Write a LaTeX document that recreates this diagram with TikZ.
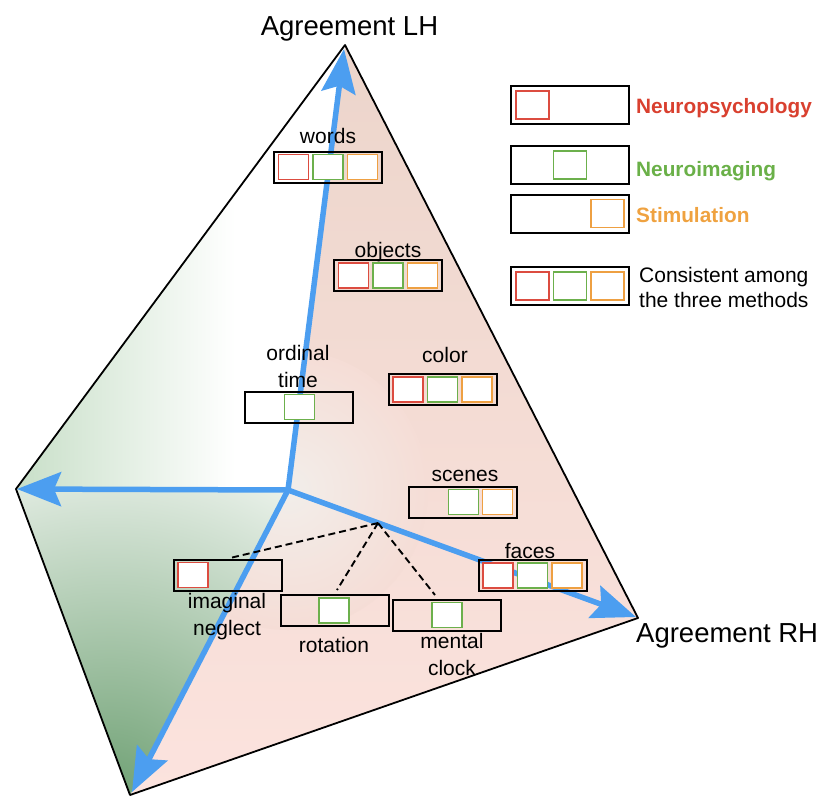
\documentclass[tikz,border=0pt]{standalone}
\usepackage{fontspec}
\setmainfont{Liberation Sans}
\usetikzlibrary{arrows.meta,calc}
\definecolor{arrowblue}{RGB}{76,158,240}
\definecolor{boxred}{RGB}{220,76,64}
\definecolor{boxgreen}{RGB}{108,176,76}
\definecolor{boxorange}{RGB}{238,160,66}
\definecolor{txtred}{RGB}{217,64,47}
\definecolor{txtgreen}{RGB}{106,176,72}
\definecolor{txtorange}{RGB}{239,162,64}
\definecolor{pinktop}{RGB}{236,213,203}
\definecolor{pinkbot}{RGB}{252,227,222}
\definecolor{pinkmid}{RGB}{245,221,214}
\definecolor{centerwhite}{RGB}{242,238,234}
\definecolor{greenlight}{RGB}{200,223,200}
\definecolor{greendark}{RGB}{110,160,115}
\definecolor{greenpale}{RGB}{232,240,232}
\begin{document}
\begin{tikzpicture}[x=1pt,y=-1pt,
  catbox/.style={draw=black, line width=2pt, minimum width=108pt, minimum height=31pt, inner sep=0pt},
  legbox/.style={draw=black, line width=2pt, minimum width=118pt, minimum height=38pt, inner sep=0pt},
  sqr/.style={draw=#1, fill=white, line width=1.9pt, minimum width=30pt, minimum height=25pt, inner sep=0pt},
  legsqr/.style={draw=#1, fill=white, line width=1.9pt, minimum width=33pt, minimum height=28pt, inner sep=0pt},
  lbl/.style={font=\fontsize{21}{26.5}\selectfont, inner sep=0pt, anchor=base, align=center},
  biglbl/.style={font=\fontsize{27.5}{32}\selectfont, inner sep=0pt, anchor=base},
  legtxt/.style={font=\fontsize{20.8}{25}\selectfont\bfseries, inner sep=0pt, anchor=base west},
  legplain/.style={font=\fontsize{21}{25}\selectfont, inner sep=0pt, anchor=base west},
  bluearrow/.style={draw=arrowblue, line width=5.5pt, line cap=round, -{Stealth[length=44pt,width=34pt,inset=7pt]}},
  dashline/.style={draw=black, line width=1.9pt, dash pattern=on 7pt off 4pt},
  outline/.style={draw=black, line width=1.8pt, line join=round}]
\useasboundingbox (0,0) rectangle (825,796);

% vertices
\coordinate (T) at (345,45);
\coordinate (L) at (16,489);
\coordinate (B) at (130,795);
\coordinate (R) at (638,618);
\coordinate (C) at (288,490);
\coordinate (J) at (378,523);
\coordinate (Ttip) at (344,49);
\coordinate (Ltip) at (17,489);
\coordinate (Btip) at (132,792);
\coordinate (Rtip) at (636,617);

% shading of the faces
\begin{scope}
\clip (T) -- (C) -- (B) -- (R) -- cycle;
\shade[top color=pinktop, bottom color=pinkbot] (120,40) rectangle (645,800);
\shade[inner color=centerwhite, outer color=pinkmid] (C) circle (140);
\end{scope}
\begin{scope}
\clip (T) -- (L) -- (C) -- cycle;
\fill[white] (0,0) rectangle (400,500);
\shade[left color=greenlight, right color=white] (16,40) rectangle (235,495);
\end{scope}
\begin{scope}
\clip (L) -- (B) -- (C) -- cycle;
\fill[greenpale] (0,480) rectangle (300,800);
\shade[inner color=greendark, outer color=greenpale] (110,800) circle (350);
\end{scope}

% outline
\draw[outline] (T) -- (L) -- (B) -- (R) -- cycle;

% axes
\draw[bluearrow] (C) -- (Ttip);
\draw[bluearrow] (C) -- (Ltip);
\draw[bluearrow] (C) -- (Btip);
\draw[bluearrow] (C) -- (Rtip);

% category boxes
\node[catbox] (words) at (328,167) {};
\node[catbox] (objects) at (388,275.5) {};
\node[catbox] (ordinal) at (299,407) {};
\node[catbox] (color) at (442.5,389.5) {};
\node[catbox] (scenes) at (463,502) {};
\node[catbox] (faces) at (532.5,575.5) {};
\node[catbox] (imaginal) at (227.5,575) {};
\node[catbox] (rotation) at (335,610.5) {};
\node[catbox] (mental) at (446.5,615) {};

% dashed links
\coordinate (imgEnd) at (230,558);
\coordinate (rotEnd) at (337,590);
\coordinate (menEnd) at (435,595);
\draw[dashline] (J) -- (imgEnd);
\draw[dashline] (J) -- (rotEnd);
\draw[dashline] (J) -- (menEnd);

% squares
\foreach \b in {words,objects,color,faces}{
  \node[sqr=boxred] (\b-r) at ($(\b)+(-34.5,0)$) {};
  \node[sqr=boxgreen] (\b-g) at (\b) {};
  \node[sqr=boxorange] (\b-o) at ($(\b)+(34.5,0)$) {};
}
\node[sqr=boxgreen] (ordinal-g) at ($(ordinal)+(0.5,0)$) {};
\node[sqr=boxgreen] (scenes-g) at ($(scenes)+(0.5,0)$) {};
\node[sqr=boxorange] (scenes-o) at ($(scenes)+(34.5,0)$) {};
\node[sqr=boxred] (imaginal-r) at ($(imaginal)+(-34.5,0)$) {};
\node[sqr=boxgreen] (rotation-g) at ($(rotation)+(-1,0)$) {};
\node[sqr=boxgreen] (mental-g) at ($(mental)+(0.5,0)$) {};

% labels (multi-line nodes: base = last line)
\node[lbl] (wordsT) at (328,143) {words};
\node[lbl] (objectsT) at (388,257) {objects};
\node[lbl] (ordinalT) at (298,387) {ordinal\\time};
\node[lbl] (colorT) at (445,362) {color};
\node[lbl] (scenesT) at (465,481) {scenes};
\node[lbl] (facesT) at (530,558) {faces};
\node[lbl] (imaginalT) at (227,635) {imaginal\\neglect};
\node[lbl] (rotationT) at (334,652) {rotation};
\node[lbl] (mentalT) at (452,675) {mental\\clock};

\node[biglbl] (LH) at (349.5,35) {Agreement LH};
\node[biglbl, anchor=base west] (RH) at (636,642) {Agreement RH};

% legend
\node[legbox] (leg1) at (570,105) {};
\node[legsqr=boxred] (leg1-r) at ($(leg1)+(-37.5,0)$) {};
\node[legtxt, text=txtred] (leg1T) at (636,113) {Neuropsychology};

\node[legbox] (leg2) at (570,165) {};
\node[legsqr=boxgreen] (leg2-g) at (leg2) {};
\node[legtxt, text=txtgreen] (leg2T) at (636,176) {Neuroimaging};

\node[legbox] (leg3) at (570,213.5) {};
\node[legsqr=boxorange] (leg3-o) at ($(leg3)+(37.5,0)$) {};
\node[legtxt, text=txtorange] (leg3T) at (636,222) {Stimulation};

\node[legbox] (leg4) at (570,286) {};
\node[legsqr=boxred] (leg4-r) at ($(leg4)+(-37.5,0)$) {};
\node[legsqr=boxgreen] (leg4-g) at (leg4) {};
\node[legsqr=boxorange] (leg4-o) at ($(leg4)+(37.5,0)$) {};
\node[legplain, align=left] (leg4T) at (639,307) {Consistent among\\the three methods};
\end{tikzpicture}
\end{document}
